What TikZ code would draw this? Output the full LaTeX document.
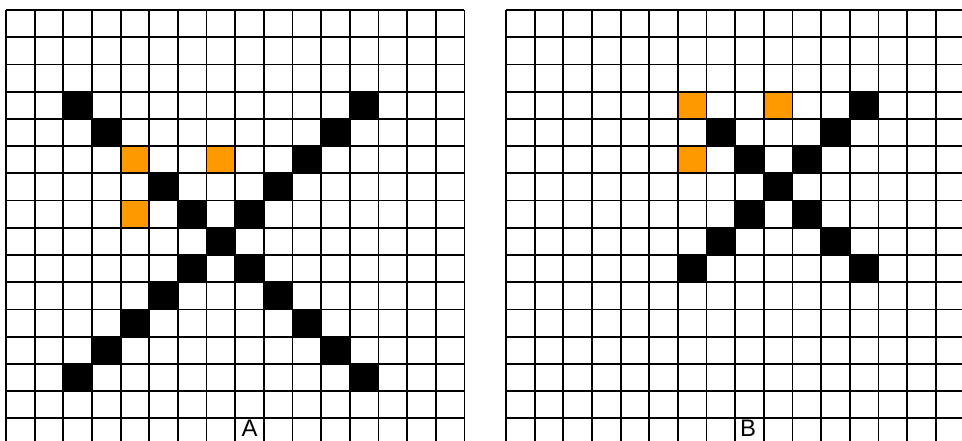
\documentclass[tikz,border=0pt]{standalone}
\usepackage{fontspec}
\setsansfont{Liberation Sans}
\usetikzlibrary{positioning}
\definecolor{cellorange}{RGB}{255,153,0}

\begin{document}
\begin{tikzpicture}[
  x=1bp, y=-1bp,
  gridline/.style={line width=1.8bp, black},
  blackcell/.style={fill=black},
  orangecell/.style={fill=cellorange},
  panel/.style={font=\sffamily\fontsize{24}{24}\selectfont, inner sep=0pt, anchor=north},
  cellunits/.style={x=28.65bp, y=-27.22bp},
]

% ---- frame ----
\useasboundingbox (0,0) rectangle (962,441);
\clip (0,0) rectangle (962,441);
\fill[white] (0,0) rectangle (962,441);

% ---- grid A ----
\begin{scope}[shift={(6,10)}, cellunits]
  \foreach \c in {2,3,5,6,7,8,9,10,11,12}
    \fill[blackcell] (\c,\c+1) rectangle ++(1,1);
  \foreach \c in {2,...,12}
    \fill[blackcell] (\c,15-\c) rectangle ++(1,1);
  \foreach \c/\r in {4/5, 7/5, 4/7}
    \fill[orangecell] (\c,\r) rectangle ++(1,1);
  \foreach \k in {0,...,16} {
    \draw[gridline] (\k,0) -- (\k,16);
    \draw[gridline] (0,\k) -- (16,\k);
  }
\end{scope}

% ---- grid B ----
\begin{scope}[shift={(506,10)}, cellunits]
  \foreach \c in {7,...,12}
    \fill[blackcell] (\c,\c-3) rectangle ++(1,1);
  \foreach \c in {6,...,12}
    \fill[blackcell] (\c,15-\c) rectangle ++(1,1);
  \foreach \c/\r in {6/3, 9/3, 6/5}
    \fill[orangecell] (\c,\r) rectangle ++(1,1);
  \foreach \k in {0,...,16} {
    \draw[gridline] (\k,0) -- (\k,16);
    \draw[gridline] (0,\k) -- (16,\k);
  }
\end{scope}

% ---- labels ----
\node[panel] (labelA) at (249.5,420) {A};
\node[panel] (labelB) at (748,420) {B};

\end{tikzpicture}
\end{document}
